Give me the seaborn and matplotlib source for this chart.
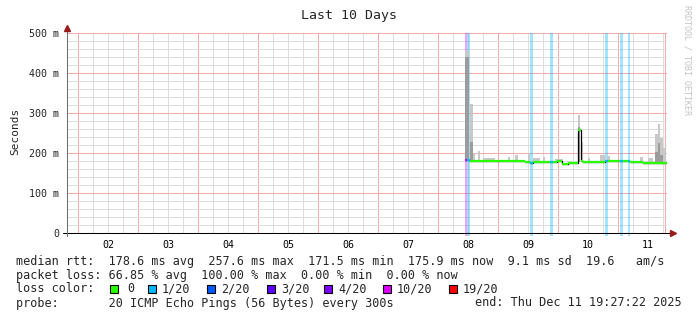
import matplotlib
matplotlib.use("Agg")
import matplotlib.pyplot as plt
import matplotlib.dates as mdates
from matplotlib.ticker import FuncFormatter, NullFormatter, MultipleLocator, FixedLocator
from matplotlib.patches import Rectangle
import numpy as np
import pandas as pd
import seaborn as sns

# ---------------- data ----------------
title = "Last 10 Days"
t_start = "2025-12-01 19:27:22"
t_end = "2025-12-11 19:27:22"

y_ticks = [0, 100, 200, 300, 400, 500]
y_tick_labels = ["0", "100 m", "200 m", "300 m", "400 m", "500 m"]

loss_levels = ["0", "1/20", "2/20", "3/20", "4/20", "10/20", "19/20"]
loss_colors = ["#26ff00", "#00b8ff", "#0059ff", "#5e00ff", "#7e00ff", "#dd00ff", "#ff0000"]

# median rtt (ms) as step segments: start time, value, loss-level index
median_time = ["2025-12-08 10:48", "2025-12-08 11:43", "2025-12-08 12:41", "2025-12-09 02:00",
               "2025-12-09 10:48", "2025-12-09 12:48", "2025-12-09 14:00", "2025-12-09 20:48",
               "2025-12-09 21:53", "2025-12-09 23:30", "2025-12-10 01:36", "2025-12-10 04:00",
               "2025-12-10 08:07", "2025-12-10 09:05", "2025-12-10 10:00", "2025-12-10 18:48",
               "2025-12-10 19:53", "2025-12-11 00:48", "2025-12-11 01:53", "2025-12-11 03:53",
               "2025-12-11 04:48", "2025-12-11 10:00"]
median_ms = [182, 182, 181, 179,
             177, 176, 176.5, 177,
             178, 180, 171.5, 176,
             257.6, 180, 178, 179,
             181, 179, 180, 180,
             177, 175.9]
median_loss = [5, 1, 0, 0,
               0, 1, 0, 1,
               0, 0, 0, 0,
               0, 0, 0, 1,
               0, 1, 0, 1,
               0, 0]

# loss bars (vertical background bands)
lossbar_start = ["2025-12-08 10:48", "2025-12-08 11:43", "2025-12-09 12:48", "2025-12-09 20:48",
                 "2025-12-10 18:48", "2025-12-11 00:48", "2025-12-11 03:53"]
lossbar_end = ["2025-12-08 11:43", "2025-12-08 12:41", "2025-12-09 14:00", "2025-12-09 21:53",
               "2025-12-10 19:53", "2025-12-11 01:53", "2025-12-11 04:48"]
lossbar_level = [5, 1, 1, 1, 1, 1, 1]

# smoke (spread of individual pings): start, end, low, high, dark-core high
smoke_start = ["2025-12-08 10:48", "2025-12-08 12:36", "2025-12-08 14:07", "2025-12-08 15:53",
               "2025-12-08 18:00", "2025-12-09 04:00", "2025-12-09 06:48", "2025-12-09 12:00",
               "2025-12-09 14:00", "2025-12-09 18:00", "2025-12-09 22:48", "2025-12-10 07:53",
               "2025-12-10 09:29", "2025-12-10 12:00", "2025-12-10 16:48", "2025-12-10 19:29",
               "2025-12-11 08:48", "2025-12-11 12:00", "2025-12-11 14:48", "2025-12-11 16:00",
               "2025-12-11 16:48", "2025-12-11 18:00"]
smoke_end = ["2025-12-08 12:20", "2025-12-08 14:07", "2025-12-08 14:48", "2025-12-08 16:48",
             "2025-12-08 22:48", "2025-12-09 04:48", "2025-12-09 08:00", "2025-12-09 12:48",
             "2025-12-09 16:48", "2025-12-09 18:48", "2025-12-10 02:00", "2025-12-10 08:48",
             "2025-12-10 10:07", "2025-12-10 12:48", "2025-12-10 18:48", "2025-12-10 20:48",
             "2025-12-11 10:07", "2025-12-11 14:00", "2025-12-11 16:00", "2025-12-11 16:48",
             "2025-12-11 18:00", "2025-12-11 19:12"]
smoke_lo = [180, 180, 180, 180, 178, 177, 177, 176, 176, 176, 177, 178,
            178, 178, 178, 179, 177, 176, 176, 176, 176, 176]
smoke_hi = [455, 323, 200, 204, 188, 189, 195, 200, 187, 189, 185, 295,
            228, 187, 195, 192, 190, 187, 247, 272, 237, 212]
smoke_dark = [440, 228, np.nan, np.nan, np.nan, np.nan, np.nan, np.nan, np.nan, np.nan, np.nan, 265,
              np.nan, np.nan, np.nan, np.nan, np.nan, np.nan, 203, 225, 195, np.nan]

legend_line1 = "median rtt:  178.6 ms avg  257.6 ms max  171.5 ms min  175.9 ms now  9.1 ms sd  19.6   am/s"
legend_line2 = "packet loss: 66.85 % avg  100.00 % max  0.00 % min  0.00 % now"
legend_line3 = "loss color:"
legend_line4 = "probe:       20 ICMP Echo Pings (56 Bytes) every 300s"
legend_end = "end: Thu Dec 11 19:27:22 2025"
watermark = "RRDTOOL / TOBI OETIKER"

# ---------------- drawing ----------------
sns.set_style("white")
MONO = ["DejaVu Sans Mono"]
plt.rcParams["font.family"] = MONO

W, H = 697, 321
fig = plt.figure(figsize=(W / 100, H / 100), dpi=100)
fig.patch.set_facecolor("white")

def fx(px):
    return px / W

def fy(py):
    return 1 - py / H

ax = fig.add_axes([fx(67), fy(232.7), fx(666.6) - fx(67), fy(33.3) - fy(232.7)])
ax.xaxis_date()

def dn(lst):
    return mdates.date2num(pd.to_datetime(lst))

x0, x1 = dn([t_start, t_end])
ax.set_xlim(x0, x1)
ax.set_ylim(0, 500)

# loss bands
for s, e, lv in zip(dn(lossbar_start), dn(lossbar_end), lossbar_level):
    ax.axvspan(s, e, ymin=-0.018, ymax=1, color=loss_colors[lv], alpha=0.36, lw=0,
               zorder=0.6, clip_on=False)

# smoke
ss, se = dn(smoke_start), dn(smoke_end)
lo = np.array(smoke_lo, float)
hi = np.array(smoke_hi, float)
dk = np.array(smoke_dark, float)
ax.bar(ss, hi - lo, width=se - ss, bottom=lo, align="edge", color="#c8c8c8", lw=0, zorder=1.2)
m = ~np.isnan(dk)
ax.bar(ss[m], dk[m] - lo[m], width=(se - ss)[m], bottom=lo[m], align="edge",
       color="#9c9c9c", lw=0, zorder=1.3)

# median line
mt = list(dn(median_time)) + [x1]
mv = list(median_ms) + [median_ms[-1]]
df = pd.DataFrame({"t": mt, "ms": mv})
sns.lineplot(data=df, x="t", y="ms", drawstyle="steps-post", color="black", lw=0.9,
             estimator=None, ax=ax, zorder=3)
ax.hlines(median_ms, mt[:-1], mt[1:], colors=[loss_colors[i] for i in median_loss],
          lw=1.6, zorder=4)
ax.set_xlabel("")
ax.set_ylabel("")

# grid & ticks
ax.set_axisbelow(True)
ax.xaxis.set_major_locator(mdates.HourLocator(byhour=[0]))
ax.xaxis.set_minor_locator(mdates.HourLocator(byhour=[6, 12, 18]))
ax.xaxis.set_major_formatter(NullFormatter())
ax.xaxis.set_minor_formatter(FuncFormatter(
    lambda v, p: mdates.num2date(v).strftime("%d") if mdates.num2date(v).hour == 12 else ""))
ax.yaxis.set_major_locator(FixedLocator(y_ticks))
ax.set_yticklabels(y_tick_labels)
ax.yaxis.set_minor_locator(MultipleLocator(20))

ax.grid(which="major", color="#f3aaaa", lw=0.75, zorder=0.5)
ax.grid(which="minor", color="#dedede", lw=0.75, zorder=0.4)
ax.tick_params(axis="x", which="major", length=3, width=0.75, color="#f3aaaa")
ax.tick_params(axis="x", which="minor", length=3, width=0.75, color="#dedede",
               labelsize=7.2, pad=2.5, labelcolor="#000000")
ax.tick_params(axis="y", which="both", length=0, labelsize=7.2, pad=5.5)
for sp in ax.spines.values():
    sp.set_visible(False)

# right edge marker line
ax.plot([0.9975, 0.9975], [0, 1], transform=ax.transAxes, color="#f3aaaa", lw=0.75, zorder=0.5)

# axes lines with arrows
ax.plot([-0.006, 1.009], [0, 0], transform=ax.transAxes, color="black", lw=0.75,
        clip_on=False, zorder=6)
ax.plot([0, 0], [-0.016, 1.02], transform=ax.transAxes, color="#707070", lw=0.75,
        clip_on=False, zorder=6)
ax.plot([1.011], [0], marker=">", ms=4.2, color="#9b1a1a", mec="#9b1a1a",
        transform=ax.transAxes, clip_on=False, zorder=7)
ax.plot([0], [1.025], marker="^", ms=4.2, color="#9b1a1a", mec="#9b1a1a",
        transform=ax.transAxes, clip_on=False, zorder=7)

# titles
fig.text(fx(349), fy(16), title, ha="center", va="center", fontsize=9.5, family=MONO)
fig.text(fx(15), fy(131), "Seconds", ha="center", va="center", rotation=90,
         fontsize=8, family=MONO)
fig.text(fx(686.5), fy(5), watermark, ha="center", va="top", rotation=270,
         fontsize=6, color="#c4c4c4", family=MONO)

# legend block
LFS = 8.5
fig.text(fx(16), fy(262), legend_line1, ha="left", va="center", fontsize=LFS, family=MONO)
fig.text(fx(16), fy(275.5), legend_line2, ha="left", va="center", fontsize=LFS, family=MONO)
fig.text(fx(16), fy(289), legend_line3, ha="left", va="center", fontsize=LFS, family=MONO)
fig.text(fx(16), fy(303), legend_line4, ha="left", va="center", fontsize=LFS, family=MONO)
fig.text(fx(682), fy(303), legend_end, ha="right", va="center", fontsize=LFS, family=MONO)

sq_x = [110, 148, 207, 267, 324, 383, 449]
for px, lab, col in zip(sq_x, loss_levels, loss_colors):
    fig.patches.append(Rectangle((fx(px), fy(293)), 8 / W, 8 / H, transform=fig.transFigure,
                                 facecolor=col, edgecolor="black", lw=0.8))
    fig.text(fx(px + 14 if lab != "0" else px + 17), fy(289), lab, ha="left", va="center",
             fontsize=LFS, family=MONO)

fig.savefig("out.png", dpi=100, facecolor="white")
